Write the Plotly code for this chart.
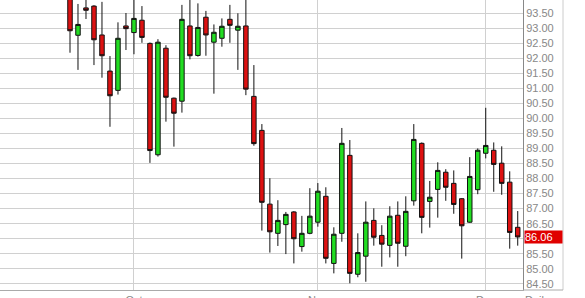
import plotly.graph_objects as go

# Daily candles (index 0..56); month starts at index 8 (Oct), 31 (Nov), 52 (Dec)
opens  = [94.15, 92.76, 93.67, 93.73, 92.77, 91.57, 90.93, 93.07, 92.85, 93.26,
          92.49, 88.79, 92.33, 90.67, 90.57, 93.07, 92.09, 93.36, 92.53, 92.66,
          93.29, 92.93, 93.07, 90.73, 89.60, 87.15, 86.18, 86.47, 86.89, 85.74,
          86.18, 86.55, 87.41, 85.18, 86.18, 88.77, 84.82, 85.42, 86.61, 86.11,
          85.78, 86.78, 85.75, 87.26, 89.17, 87.24, 87.64, 88.21, 87.84, 87.33,
          86.55, 87.63, 88.84, 88.94, 88.51, 87.88, 86.38]
highs  = [94.35, 93.80, 94.05, 93.76, 93.87, 92.07, 93.19, 93.50, 94.10, 93.73,
          92.52, 92.63, 92.43, 90.69, 93.77, 94.10, 93.82, 93.57, 93.12, 93.32,
          93.77, 93.49, 94.10, 91.77, 89.81, 88.01, 87.28, 86.89, 86.92, 86.76,
          87.68, 87.85, 87.71, 86.38, 89.68, 89.28, 86.18, 87.24, 87.01, 86.45,
          87.08, 87.24, 87.41, 89.81, 89.20, 87.92, 88.54, 88.31, 88.27, 87.35,
          88.71, 89.00, 90.35, 89.20, 89.07, 88.24, 86.92]
lows   = [92.18, 91.61, 93.30, 91.77, 91.35, 89.72, 90.79, 92.27, 92.13, 92.51,
          88.52, 88.73, 89.89, 89.06, 90.19, 91.96, 92.05, 92.08, 90.82, 92.38,
          92.51, 91.61, 90.77, 89.09, 86.27, 85.54, 85.76, 85.49, 85.18, 85.57,
          86.15, 86.40, 85.18, 84.85, 85.90, 84.52, 84.72, 84.57, 85.77, 85.07,
          85.38, 85.07, 85.42, 87.10, 86.18, 86.37, 86.70, 87.26, 86.83, 85.34,
          86.53, 87.48, 88.67, 87.56, 87.46, 85.67, 85.77]
closes = [92.91, 93.12, 93.59, 92.61, 92.08, 90.75, 92.66, 92.98, 93.32, 92.69,
          88.93, 92.53, 90.70, 90.17, 93.29, 92.08, 93.02, 92.77, 92.86, 93.06,
          93.09, 93.06, 90.97, 89.16, 87.21, 86.23, 86.61, 86.81, 86.00, 86.18,
          86.75, 87.58, 85.35, 86.15, 89.17, 84.85, 85.54, 86.55, 86.05, 85.82,
          86.75, 85.85, 86.91, 89.30, 86.71, 87.38, 88.27, 87.71, 87.14, 86.43,
          88.07, 88.94, 89.10, 88.47, 87.84, 86.21, 86.06]
index = list(range(len(opens)))

month_pos = [8, 31, 52]
month_labels = ["Oct", "Nov", "Dec"]
price_ticks = [84.5 + 0.5 * i for i in range(20)]
last_price = closes[-1]
# the 86.00 label sits hidden behind the last-price box
price_labels = ["" if abs(v - 86.0) < 1e-9 else f"{v:.2f}" for v in price_ticks]

fig = go.Figure()
fig.add_trace(go.Candlestick(
    x=index, open=opens, high=highs, low=lows, close=closes,
    increasing=dict(fillcolor="#22dd22", line=dict(color="#111111", width=1)),
    decreasing=dict(fillcolor="#dd1111", line=dict(color="#111111", width=1)),
    whiskerwidth=0, showlegend=False, hoverinfo="none",
))

fig.update_layout(
    width=585, height=298,
    margin=dict(l=0, r=62, t=0, b=8),
    paper_bgcolor="white", plot_bgcolor="white",
    font=dict(family="Liberation Sans, Arial", size=11, color="#888888"),
    boxgap=0.2,
    xaxis=dict(
        range=[-8.755, 56.66], rangeslider=dict(visible=False),
        tickvals=month_pos, ticktext=month_labels, automargin=False,
        showgrid=True, gridcolor="#d0d0d0", gridwidth=1,
        showline=True, linecolor="#aaaaaa", linewidth=1,
        ticks="", zeroline=False, fixedrange=True,
    ),
    yaxis=dict(
        side="right", range=[84.297, 93.932], automargin=False,
        tickvals=price_ticks, ticktext=price_labels,
        showgrid=True, gridcolor="#d0d0d0", gridwidth=1,
        showline=True, linecolor="#888888", linewidth=1,
        ticks="", zeroline=False, fixedrange=True,
    ),
    shapes=[
        dict(type="line", xref="paper", yref="paper", x0=1.0765, x1=1.0765,
             y0=0, y1=1.05, line=dict(color="#cccccc", width=1)),
        dict(type="line", xref="paper", yref="paper", x0=1, x1=1.0765,
             y0=0, y1=0, line=dict(color="#aaaaaa", width=1)),
    ],
    annotations=[
        dict(x=1, xref="paper", xanchor="left", xshift=1,
             y=last_price, yref="y", yanchor="middle",
             text=f"{last_price:.2f}", showarrow=False,
             bgcolor="#e00000", font=dict(color="white", size=11),
             width=37, align="left", borderpad=0),
        dict(x=1.027, xref="paper", xanchor="center", y=0, yref="paper",
             yanchor="top", yshift=-2, text="Daily", showarrow=False),
    ],
)

fig.write_html("out.html")
